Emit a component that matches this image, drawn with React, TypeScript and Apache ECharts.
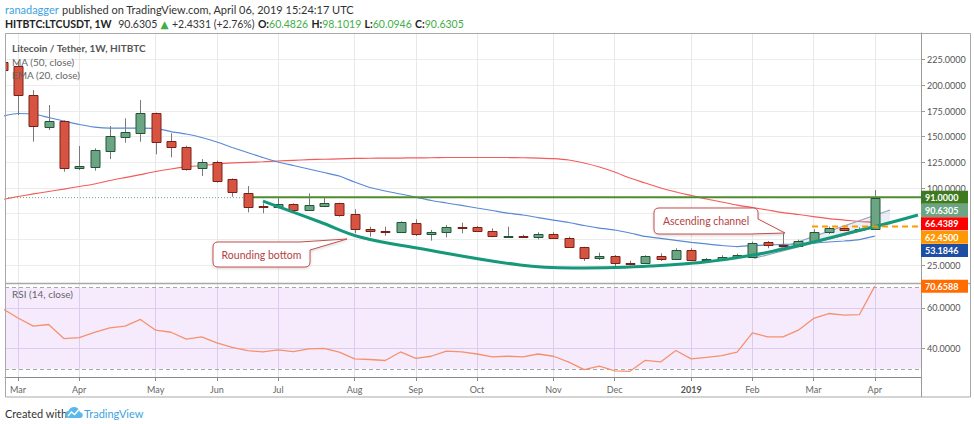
import React, { useEffect, useRef } from 'react';
import * as echarts from 'echarts';

// ---------- data (weekly candles, week index -1 = 26 Feb 2018 ... 56 = 1 Apr 2019) ----------
const FIRST_WEEK = -1;
const OPEN = [223, 219, 190.6, 159.7, 165.3, 119.8, 120.7, 136.3, 150, 153.9, 172.8, 145.8, 140.2, 119.2, 125, 108.5, 95.4, 82.5, 81.2, 84.1, 78.6, 82.5, 85.1, 74.4, 59.8, 58.6, 57.4, 65.6, 54.9, 57.1, 61.7, 61.7, 58.1, 53.2, 53.6, 52.6, 55.2, 51.6, 42.2, 32.1, 34.1, 27.2, 27.2, 33.8, 30.9, 39.6, 29.9, 30.8, 32.5, 33.1, 47.1, 44.5, 43.8, 48.4, 56.9, 60.7, 59.1, 60.4826];
const CLOSE = [215, 190.6, 160.7, 165.3, 119.8, 121.4, 137, 150.6, 154.8, 172.8, 145.1, 140.2, 118.5, 125, 107.1, 95.8, 81.8, 81.2, 84.1, 78.6, 83.4, 85.1, 73.7, 59.8, 58.6, 57.4, 67.2, 54.9, 57.1, 61.7, 61.3, 58.1, 53.2, 53.6, 52.6, 55.2, 51.6, 42.8, 32.1, 34.1, 27.2, 26.7, 33.8, 30.9, 39.6, 29.9, 30.8, 33.1, 35, 46.7, 44.5, 43.5, 48.7, 56.9, 60.7, 59.1, 60.5, 90.6305];
const LOW = [208, 171, 145.1, 156.5, 115.9, 117.5, 116.9, 128.2, 144.1, 145.1, 132.8, 129.9, 116.9, 111.7, 105.2, 91.5, 76.3, 75.4, 80, 77.6, 77.9, 82, 72, 55.9, 52.6, 53.5, 57, 53.2, 48.7, 52, 55.9, 57.4, 52, 53, 52, 50, 51, 42.2, 28.9, 29.9, 24, 24.7, 26, 28.9, 30.5, 28.9, 28.9, 29.9, 31, 32.5, 41.3, 43, 43, 46.1, 55.2, 58, 58, 60.0946];
const HIGH = [228, 223, 195.5, 180.8, 166, 140.9, 138.7, 160.4, 167.9, 185.7, 173.5, 153.3, 141.2, 128.2, 126.6, 109.4, 101.9, 85.1, 90.9, 85.1, 94.8, 90.9, 85.7, 79.3, 62.3, 62.3, 67.5, 69.5, 59.1, 64, 66.2, 63, 60.7, 62.3, 54.5, 56.9, 56.9, 52.6, 42.8, 37, 34.7, 29.2, 34.5, 36.4, 41.3, 41.3, 31.8, 34.5, 36, 47.7, 48.4, 55.9, 49.7, 59.8, 62.3, 61.7, 61.7, 98.1019];
const MA50 = [88.8, 91.7, 94.2, 96.6, 99, 101.5, 103.9, 107.3, 110.2, 113.1, 116.1, 118.5, 120.5, 121.9, 123.4, 124.4, 125, 125.6, 126.3, 127, 127.6, 128, 128.4, 128.8, 129, 129.2, 129.2, 129.4, 129.5, 129.7, 129.7, 129.7, 129.7, 129.7, 129.5, 129.2, 128.7, 127.3, 124.4, 120.5, 115.6, 109.7, 104.9, 100, 96.1, 92.7, 89.3, 86.4, 83.4, 81, 78.6, 76.1, 74.2, 72.2, 70.2, 68.8, 67.4, 66.4389];
const EMA20 = [170.1, 172.6, 172.1, 168.7, 165.3, 161.9, 159.4, 158.4, 158.4, 158.4, 158, 155, 152.6, 149.2, 144.8, 139.5, 134.6, 129.7, 125.3, 121.9, 118.5, 115.1, 111.7, 105.8, 100.5, 97.1, 94.2, 91.2, 87.8, 85.4, 83, 80.5, 78.1, 75.6, 73.7, 71.2, 68.8, 66.4, 63.5, 61, 59.1, 56.2, 52.8, 50.9, 48.9, 47, 45.5, 44, 43, 44, 44.5, 45, 45.5, 46.4, 47.4, 48.4, 49.8, 53.1846];
const RSI = [59.5, 55.0, 51.0, 51.8, 44.9, 45.4, 47.9, 50.1, 51.0, 54.3, 49.0, 48.0, 44.6, 45.7, 42.8, 40.6, 39.0, 38.3, 39.3, 38.5, 39.8, 40.1, 38.2, 34.9, 34.6, 34.1, 38.3, 35.2, 36.2, 38.7, 38.3, 37.3, 35.9, 36.2, 35.9, 37.3, 36.2, 33.3, 29.6, 31.4, 29.0, 28.8, 34.2, 33.4, 39.0, 34.9, 35.6, 36.5, 38.2, 47.7, 45.7, 45.7, 49.0, 54.8, 57.2, 56.4, 56.7, 70.6588];
const WEEKS = OPEN.map((_, i) => i + FIRST_WEEK);

// x-axis month labels (week index of the bar that holds the 1st of the month)
const MONTH_TICKS = [0, 4, 9, 13, 17, 22, 26, 30, 35, 39, 44, 48, 52, 56];
const MONTH_LABELS = ['Mar', 'Apr', 'May', 'Jun', 'Jul', 'Aug', 'Sep', 'Oct', 'Nov', 'Dec', '2019', 'Feb', 'Mar', 'Apr'];
const PRICE_TICKS = [25, 50, 75, 100, 125, 150, 175, 200, 225];
// 50 and 75 are hidden behind the price tags in the reference
const PRICE_LABELS = [25, 100, 125, 150, 175, 200, 225];
const RSI_TICKS = [40, 60];

// drawings
const RESISTANCE = 91;
const RESISTANCE_FROM = 15.27;
const LAST_CLOSE = 90.6305;
const SUPPORT = 62.45;
const SUPPORT_FROM = 51.9;
const BOTTOM_X = [16.01, 19.74, 22.35, 26.08, 32.81, 36.27, 41.31, 48.04, 55.88, 58.82];
const BOTTOM_Y = [87.3, 66.9, 52.3, 41.6, 25.0, 22.1, 24.0, 34.7, 62.0, 73.7];
const CHANNEL_X = [48.1, 57.0];
const CHANNEL_UPPER = [32.6, 78.6];
const CHANNEL_LOWER = [31.5, 65.5];

const TAG_VALUES = [91, 90.6305, 66.4389, 62.45, 53.1846];
const TAG_COLORS = ['#3d7a1f', '#6ba583', '#ff0000', '#ff9800', '#1d4ea3'];
const RSI_TAG = 70.6588;

const X_MIN = -0.85;
const X_MAX = 59.02;

const FONT = "Lato, 'DejaVu Sans', sans-serif";

echarts.graphic.registerShape(
  'calloutRound',
  echarts.graphic.extendPath('M218 242 L300 242 L347 239 L310 250 L310 262 Q310 267 305 267 L218 267 Q213 267 213 262 L213 247 Q213 242 218 242 Z', {})
);
echarts.graphic.registerShape(
  'calloutChannel',
  echarts.graphic.extendPath('M659 208 L753 208 Q758 208 758 213 L758 219 L785 233 L750 234 L659 234 Q654 234 654 229 L654 213 Q654 208 659 208 Z', {})
);
echarts.graphic.registerShape(
  'tvCloud',
  echarts.graphic.extendPath('M4 11 C1.8 11 0 9.4 0 7.4 C0 5.5 1.5 4 3.4 3.9 C4.1 1.6 6.2 0 8.6 0 C11.5 0 13.9 2.2 14.1 5 C15.8 5.3 17 6.7 17 8.3 C17 9.8 15.8 11 14.3 11 Z', {})
);

export default function App() {
  const ref = useRef<HTMLDivElement>(null);

  useEffect(() => {
    const chart = echarts.init(ref.current as HTMLDivElement, null, { renderer: 'svg' });

    const candleData = WEEKS.map((w, i) => [w, OPEN[i], CLOSE[i], LOW[i], HIGH[i]]);
    const monthLabel = (v: number) => {
      const k = MONTH_TICKS.indexOf(Math.round(v));
      if (k < 0) return '';
      const s = MONTH_LABELS[k];
      return /^\d+$/.test(s) ? `{y|${s}}` : s;
    };

    const option: any = {
      animation: false,
      backgroundColor: '#ffffff',
      grid: [
        { left: 5, top: 33, width: 916, height: 250 },
        { left: 5, top: 283, width: 916, height: 94 },
      ],
      xAxis: [
        {
          type: 'value', gridIndex: 0, min: X_MIN, max: X_MAX,
          axisLine: { show: false },
          axisTick: { show: false, customValues: MONTH_TICKS },
          axisLabel: { show: false, customValues: MONTH_TICKS },
          splitLine: { show: true, lineStyle: { color: '#e8e8e8', width: 1 } },
        },
        {
          type: 'value', gridIndex: 1, min: X_MIN, max: X_MAX,
          axisLine: { show: true, onZero: false, lineStyle: { color: '#8a8a8a', width: 1 } },
          axisTick: { show: true, customValues: MONTH_TICKS, length: 4, lineStyle: { color: '#8a8a8a' } },
          axisLabel: {
            customValues: MONTH_TICKS, formatter: monthLabel, color: '#666', fontSize: 9, fontFamily: FONT, margin: 8,
            rich: { y: { fontWeight: 'bold', color: '#555', fontSize: 9, fontFamily: FONT } },
          },
          splitLine: { show: true, lineStyle: { color: '#e3dced', width: 1 } },
        },
      ],
      yAxis: [
        {
          type: 'value', gridIndex: 0, position: 'right', min: 7.47, max: 251,
          axisLine: { show: true, onZero: false, lineStyle: { color: '#9a9a9a' } },
          axisTick: { show: true, customValues: PRICE_TICKS, length: 4, lineStyle: { color: '#9a9a9a' } },
          axisLabel: { customValues: PRICE_LABELS, formatter: (v: number) => v.toFixed(4), color: '#555', fontSize: 9, fontFamily: FONT, margin: 6 },
          splitLine: { show: true, lineStyle: { color: '#ececec' } },
        },
        {
          type: 'value', gridIndex: 1, position: 'right', min: 26, max: 72.2,
          axisLine: { show: true, onZero: false, lineStyle: { color: '#9a9a9a' } },
          axisTick: { show: true, customValues: RSI_TICKS, length: 4, lineStyle: { color: '#9a9a9a' } },
          axisLabel: { customValues: RSI_TICKS, formatter: (v: number) => v.toFixed(4), color: '#555', fontSize: 9, fontFamily: FONT, margin: 6 },
          splitLine: { show: true, lineStyle: { color: '#e3dced' } },
        },
      ],
      series: [
        {
          type: 'line', name: 'MA 50', xAxisIndex: 0, yAxisIndex: 0, z: 3, silent: true,
          data: WEEKS.map((w, i) => [w, MA50[i]]), showSymbol: false, smooth: 0.2,
          lineStyle: { color: '#f45b5b', width: 1.2 },
        },
        {
          type: 'line', name: 'EMA 20', xAxisIndex: 0, yAxisIndex: 0, z: 3, silent: true,
          data: WEEKS.map((w, i) => [w, EMA20[i]]), showSymbol: false, smooth: 0.2,
          lineStyle: { color: '#5a88d6', width: 1.2 },
        },
        {
          type: 'line', name: 'price line', xAxisIndex: 0, yAxisIndex: 0, z: 3, silent: true,
          data: [[X_MIN, LAST_CLOSE], [X_MAX, LAST_CLOSE]], showSymbol: false,
          lineStyle: { color: '#6ba583', width: 1, type: [1, 2] },
        },
        {
          type: 'line', name: 'resistance', xAxisIndex: 0, yAxisIndex: 0, z: 4, silent: true,
          data: [[RESISTANCE_FROM, RESISTANCE], [X_MAX, RESISTANCE]], showSymbol: false,
          lineStyle: { color: '#4f8c2f', width: 2 },
        },
        {
          type: 'line', name: 'channel upper', xAxisIndex: 0, yAxisIndex: 0, z: 4, silent: true,
          data: CHANNEL_X.map((x, i) => [x, CHANNEL_UPPER[i]]), showSymbol: false,
          lineStyle: { color: '#8ea6bb', width: 1.2 },
        },
        {
          type: 'line', name: 'channel lower', xAxisIndex: 0, yAxisIndex: 0, z: 4, silent: true,
          data: CHANNEL_X.map((x, i) => [x, CHANNEL_LOWER[i]]), showSymbol: false,
          lineStyle: { color: '#8ea6bb', width: 1.2 },
        },
        {
          type: 'custom', name: 'LTCUSDT', xAxisIndex: 0, yAxisIndex: 0, z: 5, clip: true, silent: true,
          data: candleData,
          encode: { x: 0, y: [1, 2, 3, 4] },
          renderItem: (params: any, api: any) => {
            const x = api.value(0);
            const o = api.value(1), c = api.value(2), l = api.value(3), h = api.value(4);
            const pO = api.coord([x, o]);
            const pC = api.coord([x, c]);
            const pL = api.coord([x, l]);
            const pH = api.coord([x, h]);
            const cx = Math.round(pO[0]) + 0.5;
            const up = c >= o;
            const top = Math.round(Math.min(pO[1], pC[1])) + 0.5;
            const bot = Math.round(Math.max(pO[1], pC[1])) + 0.5;
            const bh = Math.max(bot - top, 1);
            return {
              type: 'group',
              children: [
                { type: 'line', shape: { x1: cx, y1: pH[1], x2: cx, y2: pL[1] }, style: { stroke: '#7a7a7c', lineWidth: 1 } },
                {
                  type: 'rect', shape: { x: cx - 4.5, y: top, width: 9, height: bh },
                  style: { fill: up ? '#6ba583' : '#d75442', stroke: up ? '#225437' : '#7a2016', lineWidth: 1 },
                },
              ],
            };
          },
        },
        {
          type: 'line', name: 'rounding bottom', xAxisIndex: 0, yAxisIndex: 0, z: 6, silent: true,
          data: BOTTOM_X.map((x, i) => [x, BOTTOM_Y[i]]), showSymbol: false, smooth: 0.4,
          lineStyle: { color: '#16987a', width: 3 },
        },
        {
          type: 'line', name: 'support', xAxisIndex: 0, yAxisIndex: 0, z: 6, silent: true,
          data: [[SUPPORT_FROM, SUPPORT], [X_MAX, SUPPORT]], showSymbol: false,
          lineStyle: { color: '#ff9800', width: 2, type: [6, 4] },
        },
        {
          type: 'line', name: 'RSI', xAxisIndex: 1, yAxisIndex: 1, z: 5, silent: true,
          data: WEEKS.map((w, i) => [w, RSI[i]]), showSymbol: false,
          lineStyle: { color: '#f6916b', width: 1.3 },
          markArea: {
            silent: true,
            itemStyle: { color: 'rgba(160, 60, 235, 0.1)' },
            data: [[{ yAxis: 30 }, { yAxis: 70 }]],
          },
          markLine: {
            silent: true, symbol: 'none', label: { show: false },
            lineStyle: { color: '#a8a8a8', type: [4, 3], width: 1 },
            data: [{ yAxis: 70 }, { yAxis: 30 }],
          },
        },
      ],
    };

    chart.setOption(option);

    const px = (x: number, y: number) => chart.convertToPixel({ gridIndex: 0 }, [x, y]) as number[];
    const u0 = px(CHANNEL_X[0], CHANNEL_UPPER[0]);
    const u1 = px(CHANNEL_X[1], CHANNEL_UPPER[1]);
    const l0 = px(CHANNEL_X[0], CHANNEL_LOWER[0]);
    const l1 = px(CHANNEL_X[1], CHANNEL_LOWER[1]);

    const g: any[] = [];
    g.push({ type: 'polygon', z: 1, silent: true, shape: { points: [u0, u1, l1, l0] }, style: { fill: 'rgba(170, 190, 215, 0.25)' } });

    // frame
    g.push({ type: 'rect', z: 100, silent: true, shape: { x: 5.5, y: 33.5, width: 965, height: 363.5 }, style: { fill: 'none', stroke: '#a8a8a8', lineWidth: 1 } });
    g.push({ type: 'line', z: 100, silent: true, shape: { x1: 921.5, y1: 33.5, x2: 921.5, y2: 397 }, style: { stroke: '#9a9a9a', lineWidth: 1 } });
    g.push({ type: 'line', z: 100, silent: true, shape: { x1: 5.5, y1: 283.5, x2: 970.5, y2: 283.5 }, style: { stroke: '#a8a8a8', lineWidth: 1.5 } });

    // price tags
    let prevY = -1e9;
    TAG_VALUES.forEach((v, i) => {
      let y = px(0, v)[1];
      y = Math.max(y, prevY + 13.3);
      prevY = y;
      g.push({ type: 'rect', z: 110, silent: true, shape: { x: 921, y: y - 6.5, width: 47, height: 13 }, style: { fill: TAG_COLORS[i] } });
      g.push({ type: 'text', z: 111, silent: true, x: 925, y, style: { text: v.toFixed(4), fill: '#ffffff', font: `bold 9px ${FONT}`, verticalAlign: 'middle', align: 'left' } });
    });
    const ry = (chart.convertToPixel({ gridIndex: 1 }, [0, RSI_TAG]) as number[])[1];
    g.push({ type: 'rect', z: 110, silent: true, shape: { x: 921, y: ry - 6.5, width: 47, height: 13 }, style: { fill: '#ff6d00' } });
    g.push({ type: 'text', z: 111, silent: true, x: 925, y: ry, style: { text: RSI_TAG.toFixed(4), fill: '#ffffff', font: `bold 9px ${FONT}`, verticalAlign: 'middle', align: 'left' } });

    // callouts
    const calloutStyle = { fill: '#ffffff', stroke: '#c0504d', lineWidth: 1, shadowBlur: 3, shadowColor: 'rgba(0,0,0,0.18)', shadowOffsetY: 1 };
    g.push({ type: 'calloutRound', z: 120, silent: true, style: calloutStyle });
    g.push({ type: 'text', z: 121, silent: true, x: 261.5, y: 254.5, style: { text: 'Rounding bottom', fill: '#b4433f', font: `10.5px ${FONT}`, align: 'center', verticalAlign: 'middle' } });
    g.push({ type: 'calloutChannel', z: 120, silent: true, style: calloutStyle });
    g.push({ type: 'text', z: 121, silent: true, x: 706, y: 221, style: { text: 'Ascending channel', fill: '#b4433f', font: `10.5px ${FONT}`, align: 'center', verticalAlign: 'middle' } });

    // pane legends
    g.push({ type: 'text', z: 120, silent: true, x: 12, y: 48, style: { text: 'Litecoin / Tether, 1W, HITBTC', fill: '#555', font: `bold 10px ${FONT}`, verticalAlign: 'middle' } });
    g.push({ type: 'text', z: 120, silent: true, x: 12, y: 62, style: { text: 'MA (50, close)', fill: '#666', font: `10px ${FONT}`, verticalAlign: 'middle' } });
    g.push({ type: 'text', z: 120, silent: true, x: 12, y: 74.5, style: { text: 'EMA (20, close)', fill: '#666', font: `10px ${FONT}`, verticalAlign: 'middle' } });
    g.push({ type: 'text', z: 120, silent: true, x: 12, y: 294, style: { text: 'RSI (14, close)', fill: '#666', font: `10px ${FONT}`, verticalAlign: 'middle' } });

    // header
    g.push({
      type: 'text', z: 120, silent: true, x: 5, y: 9,
      style: {
        text: '{u|ranadagger} {t|published on TradingView.com, April 06, 2019 15:24:17 UTC}', verticalAlign: 'middle',
        rich: {
          u: { fill: '#3ba3e0', fontSize: 11, fontFamily: FONT },
          t: { fill: '#333', fontSize: 11, fontFamily: FONT },
        },
      },
    });
    g.push({
      type: 'text', z: 120, silent: true, x: 5, y: 24,
      style: {
        text: '{b|HITBTC:LTCUSDT, 1W}  {t|90.6305} {g|▲} {t|+2.4331 (+2.76%)} {k|O:}{g|60.4826} {k|H:}{g|98.1019} {k|L:}{g|60.0946} {k|C:}{g|90.6305}',
        verticalAlign: 'middle',
        rich: {
          b: { fill: '#222', fontSize: 10.5, fontWeight: 'bold', fontFamily: FONT },
          t: { fill: '#333', fontSize: 10.5, fontFamily: FONT },
          k: { fill: '#222', fontSize: 10.5, fontWeight: 'bold', fontFamily: FONT },
          g: { fill: '#3fae49', fontSize: 10.5, fontFamily: FONT },
        },
      },
    });

    // footer
    g.push({ type: 'text', z: 120, silent: true, x: 5, y: 413, style: { text: 'Created with', fill: '#333', font: `11px ${FONT}`, verticalAlign: 'middle' } });
    g.push({ type: 'tvCloud', z: 120, silent: true, x: 65, y: 407, scaleX: 1.05, scaleY: 1.0, style: { fill: '#5bb8ea' } });
    g.push({ type: 'polyline', z: 121, silent: true, shape: { points: [[68, 416], [71.5, 412], [74.5, 414.5], [79, 409.5]] }, style: { stroke: '#ffffff', lineWidth: 1.4, fill: 'none' } });
    g.push({ type: 'text', z: 120, silent: true, x: 84, y: 413, style: { text: 'TradingView', fill: '#3ba3e0', font: `11px ${FONT}`, verticalAlign: 'middle' } });

    chart.setOption({ graphic: g });

    return () => chart.dispose();
  }, []);

  return <div ref={ref} style={{ position: 'absolute', left: 0, top: 0, width: 974, height: 424, background: '#fff' }} />;
}
